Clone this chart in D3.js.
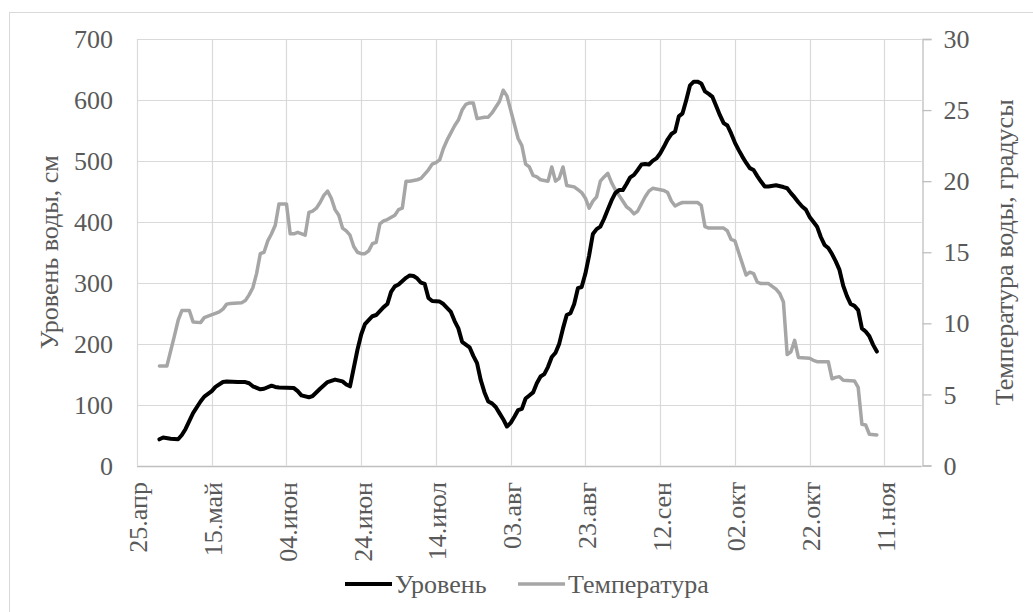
<!DOCTYPE html>
<html><head><meta charset="utf-8">
<script src="https://cdn.jsdelivr.net/npm/d3@7"></script>
<style>
html,body{margin:0;padding:0;background:#fff;}
svg{display:block;}
</style></head>
<body><svg id="c" width="1033" height="612"></svg>
<script>
const YEAR = 2013;
const xStart = "04-25", xEnd = "11-21";
const xTickStepDays = 20;
const monthsShort = ["янв","фев","мар","апр","май","июн","июл","авг","сен","окт","ноя","дек"];
const levelTicks = [0,100,200,300,400,500,600,700];
const tempTicks = [0,5,10,15,20,25,30];
const leftTitle = "Уровень воды, см";
const rightTitle = "Температура воды, градусы";
const seriesNames = ["Уровень","Температура"];

const levelDates = ["05-01","05-02","05-04","05-06","05-07","05-08","05-10","05-12","05-13","05-15","05-16","05-18","05-19","05-22","05-24","05-25","05-26","05-28","05-29","05-31",
"06-01","06-02","06-06","06-07","06-08","06-10","06-11","06-13","06-15","06-17","06-19","06-20","06-21","06-23","06-24","06-25","06-27","06-28","06-30",
"07-01","07-02","07-03","07-04","07-06","07-07","07-08","07-09","07-10","07-11","07-12","07-13","07-15","07-16","07-18","07-19","07-20","07-21","07-23","07-24","07-25","07-26","07-27","07-28","07-29","07-30","07-31",
"08-01","08-02","08-03","08-04","08-05","08-06","08-07","08-08","08-09","08-10","08-11","08-12","08-13","08-14","08-15","08-16","08-17","08-18","08-19","08-20","08-21","08-22","08-23","08-24","08-25","08-26","08-27","08-28","08-29","08-30","08-31",
"09-01","09-02","09-03","09-04","09-05","09-06","09-07","09-08","09-09","09-10","09-11","09-12","09-13","09-14","09-15","09-16","09-17","09-18","09-19","09-20","09-21","09-22","09-23","09-24","09-25","09-26","09-27","09-28","09-29","09-30",
"10-01","10-02","10-03","10-04","10-05","10-06","10-07","10-08","10-09","10-10","10-11","10-13","10-15","10-16","10-17","10-18","10-19","10-20","10-21","10-22","10-23","10-24","10-25","10-26","10-27","10-28","10-29","10-30","10-31",
"11-01","11-02","11-03","11-04","11-05","11-06","11-07","11-08","11-09"];
const levelValues = [43,46,44,43,50,60,86,105,113,122,129,137,138,137,137,135,130,125,126,131,
129,128,127,122,115,112,114,126,137,141,138,133,130,190,215,232,245,247,260,
265,285,294,297,308,312,311,307,300,298,275,270,269,265,252,237,225,203,194,180,168,140,120,105,102,96,86,
76,64,70,80,91,93,110,115,120,135,146,150,162,178,185,200,225,247,250,265,291,293,315,345,380,388,392,405,420,435,447,
452,452,462,473,477,485,494,495,494,500,504,512,523,535,544,548,573,578,600,624,630,630,627,614,610,605,590,575,562,558,
545,530,518,507,497,488,485,475,466,458,458,460,457,455,447,440,432,425,420,408,400,392,375,362,357,347,335,321,295,
278,265,262,255,225,220,212,198,187];

const tempDates = ["05-01","05-03","05-05","05-06","05-07","05-09","05-10","05-12","05-13","05-14","05-16","05-17","05-18","05-19","05-20","05-23","05-24","05-25","05-26","05-27","05-28","05-29","05-30","05-31",
"06-01","06-02","06-04","06-05","06-06","06-07","06-09","06-10","06-11","06-12","06-13","06-14","06-15","06-16","06-17","06-18","06-19","06-20","06-21","06-22","06-23","06-24","06-25","06-26","06-27","06-28","06-29","06-30",
"07-01","07-03","07-04","07-05","07-06","07-07","07-09","07-10","07-11","07-12","07-13","07-14","07-15","07-16","07-17","07-18","07-19","07-20","07-21","07-22","07-23","07-24","07-25","07-27","07-28","07-29","07-30","07-31",
"08-01","08-02","08-03","08-04","08-05","08-06","08-07","08-08","08-09","08-10","08-11","08-13","08-14","08-15","08-16","08-17","08-18","08-20","08-21","08-22","08-23","08-24","08-25","08-26","08-27","08-28","08-29","08-30","08-31",
"09-01","09-02","09-03","09-04","09-05","09-06","09-07","09-08","09-09","09-10","09-12","09-13","09-14","09-15","09-16","09-17","09-18","09-22","09-23","09-24","09-25","09-29","09-30",
"10-01","10-02","10-03","10-04","10-05","10-06","10-07","10-08","10-09","10-11","10-12","10-13","10-14","10-15","10-16","10-17","10-18","10-19","10-22","10-23","10-24","10-27","10-28","10-29","10-30","10-31",
"11-03","11-04","11-05","11-06","11-07","11-09"];
const tempValues = [7.0,7.0,9.1,10.2,10.9,10.9,10.1,10.05,10.4,10.5,10.7,10.8,11.0,11.35,11.4,11.45,11.6,12.0,12.5,13.5,14.9,15.0,15.8,16.3,
16.9,18.4,18.4,16.3,16.3,16.4,16.2,17.8,17.9,18.1,18.5,19.0,19.3,18.8,18.0,17.6,16.7,16.5,16.2,15.4,15.0,14.9,14.9,15.1,15.6,15.7,17.0,17.2,
17.3,17.6,18.0,18.1,20.0,20.0,20.1,20.2,20.5,20.8,21.2,21.3,21.5,22.3,22.9,23.4,23.9,24.3,25.0,25.4,25.5,25.5,24.4,24.5,24.5,24.8,25.2,25.6,
26.4,26.0,25.0,24.0,23.0,22.5,21.2,21.0,20.4,20.3,20.1,20.0,21.0,20.0,20.2,21.0,19.7,19.6,19.4,19.2,18.8,18.1,18.6,18.9,20.0,20.3,20.55,19.9,19.4,
19.0,18.6,18.2,18.0,17.7,17.9,18.4,18.9,19.3,19.5,19.4,19.35,19.2,18.6,18.25,18.4,18.5,18.5,18.3,16.8,16.7,16.7,16.5,
15.9,15.8,15.0,14.2,13.4,13.6,13.5,12.9,12.8,12.8,12.6,12.4,12.1,11.5,7.8,8.0,8.8,7.6,7.55,7.4,7.3,7.3,6.1,6.2,6.25,6.0,
5.95,5.5,2.9,2.85,2.2,2.15];

const parse = d3.timeParse("%Y-%m-%d");
const pd = s => parse(YEAR + "-" + s);
const levelData = levelDates.map((d,i)=>({date:pd(d), v:levelValues[i]}));
const tempData = tempDates.map((d,i)=>({date:pd(d), v:tempValues[i]}));

const FONT = '"Liberation Serif", "Times New Roman", serif';
const svg = d3.select("#c").style("font-family", FONT);
const L=137, R=921.7, T=39, B=465.5;
const textCol = "#595959", gridCol = "#d9d9d9", axisCol = "#bfbfbf";
const FS = 26;
const styleText = sel => sel.attr("fill",textCol).style("font-size",FS+"px").style("font-family",FONT);

// outer frame
svg.append("rect").attr("x",9.5).attr("y",12.5).attr("width",1040).attr("height",620)
  .attr("fill","#fff").attr("stroke","#d9d9d9");

const x = d3.scaleTime().domain([pd(xStart), pd(xEnd)]).range([L,R]);
const yL = d3.scaleLinear().domain([0,700]).range([B,T]);
const yR = d3.scaleLinear().domain([0,30]).range([B,T]);
const startD = pd(xStart);
const xTicks = d3.range(0, d3.timeDay.count(startD, pd(xEnd))+1, xTickStepDays).map(n=>d3.timeDay.offset(startD,n));
const ru = d3.timeFormatLocale({dateTime:"%x %X",date:"%d.%m.%Y",time:"%H:%M:%S",periods:["",""],
  days:["","","","","","",""],shortDays:["","","","","","",""],
  months:monthsShort,shortMonths:monthsShort});
const fmt = ru.format("%d.%b");

// grid
const g = svg.append("g");
g.selectAll(".hg").data(levelTicks.slice(1)).join("line")
  .attr("x1",L).attr("x2",R).attr("y1",d=>Math.round(yL(d))+0.5).attr("y2",d=>Math.round(yL(d))+0.5)
  .attr("stroke",gridCol).attr("stroke-width",1.2);
g.selectAll(".vg").data(xTicks).join("line")
  .attr("x1",d=>Math.round(x(d))+0.5).attr("x2",d=>Math.round(x(d))+0.5).attr("y1",T).attr("y2",B)
  .attr("stroke",gridCol).attr("stroke-width",1.2);

// bottom axis line
svg.append("line").attr("x1",L).attr("x2",R).attr("y1",Math.round(B)+0.5).attr("y2",Math.round(B)+0.5)
  .attr("stroke",axisCol).attr("stroke-width",1.3);

// right axis
const rAx = svg.append("g").attr("transform",`translate(${Math.round(R)+0.5},0)`)
  .call(d3.axisRight(yR).tickValues(tempTicks).tickSize(9).tickPadding(12));
rAx.attr("font-family",null);
rAx.select(".domain").attr("stroke",axisCol).attr("stroke-width",1.3);
rAx.selectAll(".tick line").attr("stroke",axisCol).attr("stroke-width",1.3);
rAx.selectAll("text").call(styleText).attr("dy","0.33em");

// left axis
const lAx = svg.append("g").attr("transform",`translate(${L},0)`)
  .call(d3.axisLeft(yL).tickValues(levelTicks).tickSize(0).tickPadding(24));
lAx.attr("font-family",null);
lAx.select(".domain").remove();
lAx.selectAll("text").call(styleText).attr("dy","0.33em");

// bottom axis labels
const bAx = svg.append("g").attr("transform",`translate(0,${B})`)
  .call(d3.axisBottom(x).tickValues(xTicks).tickFormat(fmt).tickSize(0));
bAx.attr("font-family",null);
bAx.select(".domain").remove();
bAx.selectAll("text").call(styleText)
  .attr("text-anchor","end").attr("transform","rotate(-90)").attr("x",-16.5).attr("y",0).attr("dy","0.38em");

// titles
svg.append("text").attr("transform",`translate(58,${(T+B)/2}) rotate(-90)`).attr("text-anchor","middle")
  .call(styleText).text(leftTitle);
svg.append("text").attr("transform",`translate(1013,${(T+B)/2}) rotate(-90)`).attr("text-anchor","middle")
  .call(styleText).text(rightTitle);

// lines
const lineL = d3.line().x(d=>x(d.date)).y(d=>yL(d.v));
const lineR = d3.line().x(d=>x(d.date)).y(d=>yR(d.v));
svg.append("path").datum(tempData).attr("d",lineR).attr("fill","none").attr("stroke","#a6a6a6")
  .attr("stroke-width",3.5).attr("stroke-linejoin","round").attr("stroke-linecap","round");
svg.append("path").datum(levelData).attr("d",lineL).attr("fill","none").attr("stroke","#000")
  .attr("stroke-width",4).attr("stroke-linejoin","round").attr("stroke-linecap","round");

// legend
const leg = [{name:seriesNames[0],col:"#000",x0:345,w:4},{name:seriesNames[1],col:"#a6a6a6",x0:518,w:3.5}];
const ly = 584;
const lg = svg.append("g").selectAll("g").data(leg).join("g");
lg.append("line").attr("x1",d=>d.x0).attr("x2",d=>d.x0+47).attr("y1",ly).attr("y2",ly)
  .attr("stroke",d=>d.col).attr("stroke-width",d=>d.w);
lg.append("text").attr("x",d=>d.x0+50).attr("y",ly).attr("dy","0.33em").call(styleText).text(d=>d.name);
</script></body></html>
